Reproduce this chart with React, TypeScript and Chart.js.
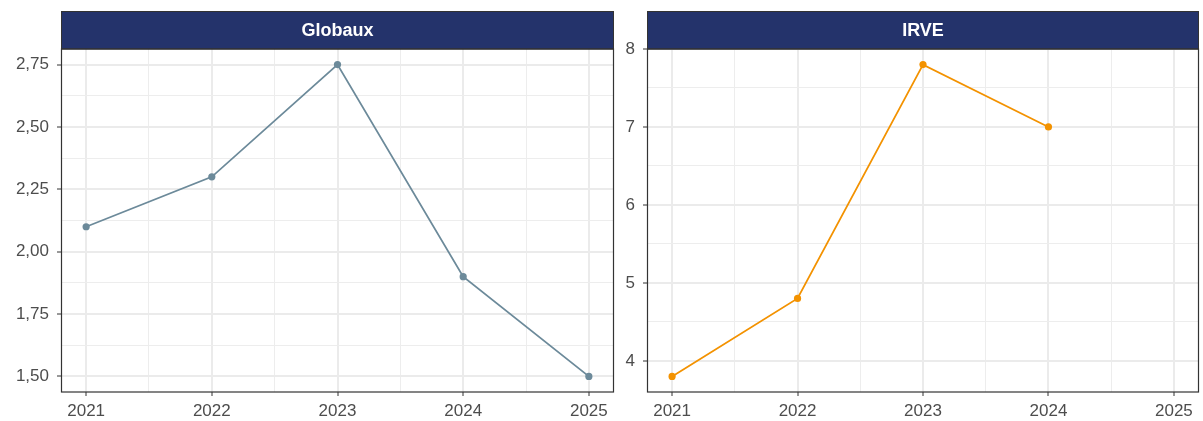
import React, { useEffect, useRef } from "react";
import { Chart, registerables } from "chart.js";

Chart.register(...registerables);

const years = [2021, 2022, 2023, 2024, 2025];
const globaux = [2.1, 2.3, 2.75, 1.9, 1.5];
const irve: (number | null)[] = [3.8, 4.8, 7.8, 7.0, null];
const globauxTicks = [1.5, 1.75, 2.0, 2.25, 2.5, 2.75];
const irveTicks = [4, 5, 6, 7, 8];
const panelTitles = ["Globaux", "IRVE"];

const FONT = "'Liberation Sans', Arial, sans-serif";
const STRIP_FILL = "#24336B";
const BORDER = "#333333";
const GRID = "#EBEBEB";
const GRID_MINOR = "#EDEDED";
const TEXT = "#4D4D4D";

function withMinors(major: number[]): { v: number; major: boolean }[] {
  const out: { v: number; major: boolean }[] = [];
  for (let i = 0; i < major.length; i++) {
    out.push({ v: major[i], major: true });
    if (i < major.length - 1) out.push({ v: (major[i] + major[i + 1]) / 2, major: false });
  }
  return out;
}

function makeChart(
  canvas: HTMLCanvasElement,
  title: string,
  values: (number | null)[],
  color: string,
  yTicks: number[],
  yMin: number,
  yMax: number,
  yFmt: (v: number) => string,
  yAxisWidth: number,
  padRight: number
) {
  const pts = years
    .map((x, i) => ({ x, y: values[i] }))
    .filter((p) => p.y !== null) as { x: number; y: number }[];
  const xT = withMinors(years);
  const yT = withMinors(yTicks);
  const isMajorX = (v: number) => Math.abs(v - Math.round(v)) < 1e-6;
  const isMajorY = (v: number) => yTicks.some((t) => Math.abs(t - v) < 1e-6);

  const panelPlugin = {
    id: "panel",
    afterDraw(chart: any) {
      const { ctx, chartArea } = chart;
      const { left, right, top, bottom } = chartArea;
      ctx.save();
      const stripTop = 11.5;
      ctx.fillStyle = STRIP_FILL;
      ctx.fillRect(left, stripTop, right - left, top - stripTop);
      ctx.strokeStyle = BORDER;
      ctx.lineWidth = 1;
      ctx.strokeRect(left + 0.5, stripTop, right - left - 1, top - stripTop);
      ctx.fillStyle = "#FFFFFF";
      ctx.font = `bold 18px ${FONT}`;
      ctx.textAlign = "center";
      ctx.textBaseline = "middle";
      ctx.fillText(title, (left + right) / 2, (stripTop + top) / 2 + 1);
      ctx.strokeStyle = BORDER;
      ctx.lineWidth = 1.2;
      ctx.strokeRect(left + 0.5, top, right - left - 1, bottom - top);
      ctx.restore();
    },
  };

  return new Chart(canvas, {
    type: "line",
    data: {
      datasets: [
        {
          data: pts,
          borderColor: color,
          backgroundColor: color,
          borderWidth: 1.8,
          pointRadius: 3.6,
          pointHoverRadius: 3.6,
          pointBorderWidth: 0,
          pointBackgroundColor: color,
          tension: 0,
          clip: false as any,
        },
      ],
    },
    options: {
      animation: false,
      responsive: false,
      maintainAspectRatio: false,
      layout: { padding: { top: 49, right: padRight, left: 0, bottom: 0 } },
      plugins: { legend: { display: false }, tooltip: { enabled: false } },
      scales: {
        x: {
          type: "linear",
          min: 2020.8,
          max: 2025.2,
          afterBuildTicks: (s: any) => {
            s.ticks = xT.map((t) => ({ value: t.v }));
          },
          afterFit: (s: any) => {
            s.height = 29;
          },
          border: { display: false },
          grid: {
            color: (c: any) => (c.tick && isMajorX(c.tick.value) ? GRID : GRID_MINOR),
            lineWidth: (c: any) => (c.tick && isMajorX(c.tick.value) ? 2 : 1),
            tickColor: (c: any) => (c.tick && isMajorX(c.tick.value) ? BORDER : "rgba(0,0,0,0)"),
            tickWidth: 1,
            tickLength: 4,
            drawTicks: true,
          },
          ticks: {
            autoSkip: false,
            maxRotation: 0,
            padding: 5,
            color: TEXT,
            font: { family: FONT, size: 17 },
            callback: (v: any) => (isMajorX(Number(v)) ? String(Math.round(Number(v))) : ""),
          },
        },
        y: {
          type: "linear",
          min: yMin,
          max: yMax,
          afterBuildTicks: (s: any) => {
            s.ticks = yT.filter((t) => t.v >= yMin - 1e-9 && t.v <= yMax + 1e-9).map((t) => ({ value: t.v }));
          },
          afterFit: (s: any) => {
            s.width = yAxisWidth;
          },
          border: { display: false },
          grid: {
            color: (c: any) => (c.tick && isMajorY(c.tick.value) ? GRID : GRID_MINOR),
            lineWidth: (c: any) => (c.tick && isMajorY(c.tick.value) ? 2 : 1),
            tickColor: (c: any) => (c.tick && isMajorY(c.tick.value) ? BORDER : "rgba(0,0,0,0)"),
            tickWidth: 1,
            tickLength: 4,
          },
          ticks: {
            autoSkip: false,
            padding: 8,
            color: TEXT,
            font: { family: FONT, size: 17 },
            callback: (v: any) => (isMajorY(Number(v)) ? yFmt(Number(v)) : ""),
          },
        },
      },
    },
    plugins: [panelPlugin],
  } as any);
}

export default function App() {
  const c1 = useRef<HTMLCanvasElement>(null);
  const c2 = useRef<HTMLCanvasElement>(null);

  useEffect(() => {
    document.body.style.margin = "0";
    const ch1 = makeChart(
      c1.current!,
      panelTitles[0],
      globaux,
      "#6C8A9A",
      globauxTicks,
      1.4375,
      2.8125,
      (v) => v.toFixed(2).replace(".", ","),
      61,
      8
    );
    const ch2 = makeChart(
      c2.current!,
      panelTitles[1],
      irve,
      "#F39200",
      irveTicks,
      3.6,
      8.0,
      (v) => String(v),
      25,
      4
    );
    return () => {
      ch1.destroy();
      ch2.destroy();
    };
  }, []);

  return (
    <div style={{ position: "absolute", left: 0, top: 0, width: 1203, height: 421, background: "#fff" }}>
      <canvas ref={c1} width={622} height={421} style={{ position: "absolute", left: 0, top: 0 }} />
      <canvas ref={c2} width={581} height={421} style={{ position: "absolute", left: 622, top: 0 }} />
    </div>
  );
}
